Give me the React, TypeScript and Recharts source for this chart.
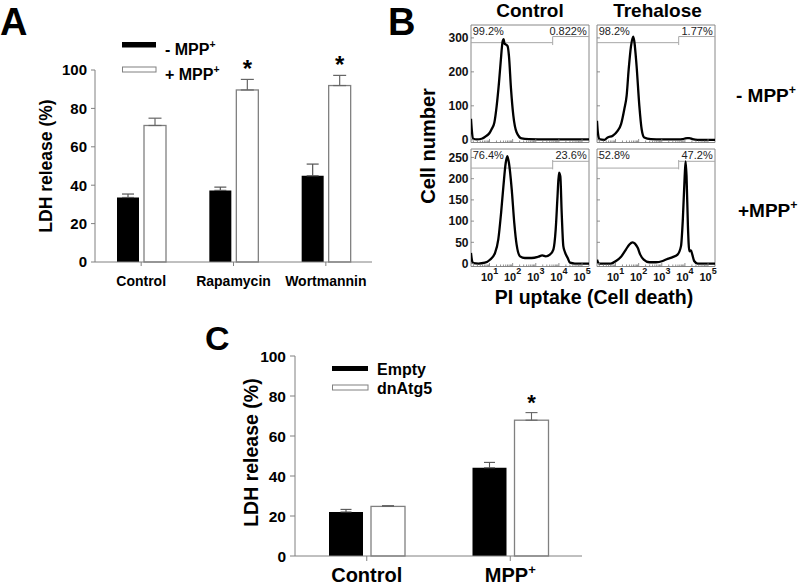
import React from 'react';
import { BarChart, Bar, XAxis, YAxis, ErrorBar, LineChart, Line, ReferenceLine, ReferenceArea } from 'recharts';

const FONT = '"Liberation Sans", Arial, Helvetica, sans-serif';

// ---------- Panel A ----------
const categoriesA = ['Control', 'Rapamycin', 'Wortmannin'];
const minusMppA = [33.6, 37.3, 44.9];
const minusMppErrA = [1.8, 1.7, 6.1];
const plusMppA = [71.1, 89.6, 91.9];
const plusMppErrA = [3.8, 5.5, 5.3];
const sigA = [false, true, true];
const seriesNamesA = ['- MPP+', '+ MPP+'];
const yTicksA = [0, 20, 40, 60, 80, 100];

// ---------- Panel C ----------
const categoriesC = ['Control', 'MPP+'];
const emptyC = [22.0, 44.1];
const emptyErrC = [1.3, 2.7];
const dnAtg5C = [24.8, 67.9];
const dnAtg5ErrC = [0.4, 3.8];
const sigC = [false, true];
const seriesNamesC = ['Empty', 'dnAtg5'];
const yTicksC = [0, 20, 40, 60, 80, 100];

// ---------- Panel B (flow cytometry histograms, x in log10 units) ----------
const colTitlesB = ['Control', 'Trehalose'];
const rowTitlesB = ['- MPP+', '+MPP+'];
const tlX = [0.2, 0.24, 0.3, 0.45, 0.66, 0.88, 1.0, 1.09, 1.21, 1.31, 1.41, 1.48, 1.57, 1.61, 1.65, 1.7, 1.78, 1.84, 1.93, 2.03, 2.17, 2.39, 2.7, 3.5, 4.5, 5.3];
const tlY = [62, 25, 3, 1, 3, 12, 20, 31, 51, 100, 169, 227, 291, 296, 283, 281, 276, 247, 149, 71, 22, 4, 2, 1, 1, 1];
const trX = [0.2, 0.24, 0.3, 0.52, 0.66, 0.88, 1.09, 1.24, 1.38, 1.48, 1.57, 1.67, 1.76, 1.81, 1.91, 2.03, 2.13, 2.24, 2.53, 3.0, 3.68, 3.97, 4.1, 4.19, 4.33, 4.55, 5.3];
const trY = [56, 20, 2, 0, 7, 12, 26, 46, 90, 129, 208, 276, 304, 291, 218, 100, 31, 7, 2, 1, 1, 3, 5, 5, 2, 0, 0];
const blX = [0.2, 0.24, 0.3, 0.52, 0.8, 1.02, 1.24, 1.38, 1.5, 1.6, 1.7, 1.77, 1.84, 1.96, 2.07, 2.17, 2.32, 2.53, 2.82, 3.11, 3.28, 3.43, 3.61, 3.76, 3.86, 3.94, 4.0, 4.06, 4.12, 4.19, 4.26, 4.38, 4.48, 4.69, 5.3];
const blY = [25, 8, 1, 0, 2, 9, 25, 57, 119, 182, 237, 253, 237, 175, 96, 45, 17, 13, 13, 16, 19, 17, 21, 33, 80, 159, 214, 206, 119, 41, 27, 13, 2, 0, 0];
const brX = [0.2, 0.24, 0.3, 0.8, 1.02, 1.24, 1.45, 1.6, 1.74, 1.84, 1.96, 2.07, 2.22, 2.46, 2.75, 3.04, 3.25, 3.47, 3.68, 3.83, 3.91, 3.99, 4.03, 4.07, 4.13, 4.19, 4.26, 4.32, 4.4, 4.55, 5.3];
const brY = [9, 3, 0, 0, 6, 16, 33, 45, 50, 47, 37, 21, 9, 3, 3, 6, 11, 15, 21, 41, 104, 206, 241, 206, 88, 29, 31, 21, 6, 0, 0];
const pctB = [['99.2%', '0.822%'], ['98.2%', '1.77%'], ['76.4%', '23.6%'], ['52.8%', '47.2%']];
const yTicksTop = [0, 100, 200, 300];
const yTicksBottom = [0, 50, 100, 150, 200, 250];
const yDomainTop: [number, number] = [-8, 338];
const yDomainBottom: [number, number] = [-7, 270];
const gateTop = { left: 286, right: 304, lo: 279, hi: 304 };
const gateBottom = { left: 225, right: 241, lo: 222, hi: 244 };
const GATE_X = 3.73;
const majorX = [1, 2, 3, 4, 5];
const minorMult = [2, 3, 4, 5, 6, 7, 8, 9];
const xDomainB: [number, number] = [0.2, 5.3];
const xTicksB = [...majorX, ...[0, 1, 2, 3, 4, 5].flatMap((d) => minorMult.map((k) => d + Math.log10(k)))]
  .filter((t) => t > xDomainB[0] && t < xDomainB[1])
  .sort((p, q) => p - q);

const BOX_W = 118;
const BOX_H = 117.5;
const colLeft = [470.7, 596.7];
const rowTop = [24.5, 148.8];

function makeRows(cats: string[], a: number[], aErr: number[], b: number[], bErr: number[], sig: boolean[]) {
  return cats.map((name, i) => ({ name, a: a[i], aErr: [0, aErr[i]], b: b[i], bErr: [0, bErr[i]], sig: sig[i] }));
}

const OpenBarWithStar = (starSize: number, starGap: number) => (props: any) => {
  const { x, y, width, height, payload } = props;
  const ppu = payload.b ? height / payload.b : 0;
  const errTop = y - payload.bErr[1] * ppu;
  return (
    <g>
      <rect x={x} y={y} width={width} height={height} fill="#fff" stroke="#808080" strokeWidth={1.3} />
      {payload.sig ? (
        <text x={x + width / 2} y={errTop - starGap} textAnchor="middle" fontSize={starSize} fontWeight="bold" fontFamily={FONT} fill="#000">*</text>
      ) : null}
    </g>
  );
};

function supText(label: string, size: number) {
  const sup = label.endsWith('+');
  const base = sup ? label.slice(0, -1) : label;
  return (
    <>
      {base}
      {sup ? <tspan fontSize={size * 0.65} dy={-size * 0.42}>+</tspan> : null}
    </>
  );
}

const CatTick = (fontSize: number) => (props: any) => {
  const { x, y, payload } = props;
  return (
    <text x={x} y={y} dy={fontSize * 0.71} textAnchor="middle" fontSize={fontSize} fontWeight="bold" fontFamily={FONT} fill="#000">
      {supText(String(payload.value), fontSize)}
    </text>
  );
};

const HistXTick = (showLabel: boolean) => (props: any) => {
  const { x, y, payload } = props;
  const v = payload.value;
  const major = Math.abs(v - Math.round(v)) < 1e-6;
  return (
    <g>
      <line x1={x} x2={x} y1={y} y2={y - (major ? 3.5 : 2)} stroke="#777" strokeWidth={0.8} />
      {showLabel && major ? (
        <text x={x} y={y + 14.5} textAnchor="middle" fontSize={11} fontWeight="bold" fontFamily={FONT} fill="#111">
          10<tspan fontSize={9} dy={-7}>{Math.round(v)}</tspan>
        </text>
      ) : null}
    </g>
  );
};

const HistYTick = (showLabel: boolean) => (props: any) => {
  const { x, y, payload } = props;
  return (
    <g>
      <line x1={x} x2={x + 3} y1={y} y2={y} stroke="#777" strokeWidth={0.8} />
      {showLabel ? (
        <text x={x - 2.5} y={y} dy="0.35em" textAnchor="end" fontSize={12} fontWeight="bold" fontFamily={FONT} fill="#111">{payload.value}</text>
      ) : null}
    </g>
  );
};

function Hist({ xs, ys, boxLeft, boxTop, yDomain, yTicks, showY, showX, gate }: any) {
  const data = xs.map((x: number, i: number) => ({ x, y: ys[i] }));
  const ML = 40, MT = 4, MR = 4, XH = 24;
  return (
    <div style={{ position: 'absolute', left: boxLeft - ML, top: boxTop - MT }}>
      <LineChart width={BOX_W + ML + MR} height={BOX_H + MT + XH} data={data} margin={{ top: MT, right: MR, bottom: 0, left: 0 }}>
        <XAxis type="number" dataKey="x" domain={xDomainB} ticks={xTicksB} interval={0} allowDataOverflow height={XH} tickSize={0} tickMargin={0} axisLine={false} tickLine={false} tick={HistXTick(showX)} />
        <YAxis type="number" domain={yDomain} ticks={yTicks} interval={0} allowDataOverflow width={ML} tickSize={0} tickMargin={0} axisLine={false} tickLine={false} tick={HistYTick(showY)} />
        <ReferenceArea x1={xDomainB[0]} x2={xDomainB[1]} y1={yDomain[0]} y2={yDomain[1]} fill="none" fillOpacity={0} stroke="#888" strokeWidth={1} ifOverflow="visible" />
        <ReferenceLine segment={[{ x: xDomainB[0], y: gate.left }, { x: GATE_X, y: gate.left }]} stroke="#a8a8a8" strokeWidth={1} ifOverflow="visible" />
        <ReferenceLine segment={[{ x: GATE_X, y: gate.right }, { x: xDomainB[1], y: gate.right }]} stroke="#a8a8a8" strokeWidth={1} ifOverflow="visible" />
        <ReferenceLine segment={[{ x: GATE_X, y: gate.lo }, { x: GATE_X, y: gate.hi }]} stroke="#a8a8a8" strokeWidth={1} ifOverflow="visible" />
        <Line type="monotone" dataKey="y" stroke="#000" strokeWidth={2.3} dot={false} isAnimationActive={false} />
      </LineChart>
    </div>
  );
}

export default function App() {
  const dataA = makeRows(categoriesA, minusMppA, minusMppErrA, plusMppA, plusMppErrA, sigA);
  const dataC = makeRows(categoriesC, emptyC, emptyErrC, dnAtg5C, dnAtg5ErrC, sigC);
  const axisStroke = '#808080';
  const histPanels = [
    { xs: tlX, ys: tlY, col: 0, row: 0 },
    { xs: trX, ys: trY, col: 1, row: 0 },
    { xs: blX, ys: blY, col: 0, row: 1 },
    { xs: brX, ys: brY, col: 1, row: 1 },
  ];

  return (
    <div style={{ position: 'absolute', left: 0, top: 0, width: 800, height: 586, background: '#fff', fontFamily: FONT, overflow: 'hidden' }}>
      {/* Panel A */}
      <div style={{ position: 'absolute', left: 0, top: 0 }}>
        <BarChart width={400} height={300} data={dataA} margin={{ top: 70, right: 28, bottom: 8, left: 35 }} barSize={22} barGap={5}>
          <XAxis dataKey="name" height={30} interval={0} tickSize={4} tickMargin={10} axisLine={{ stroke: axisStroke }} tickLine={{ stroke: axisStroke }} tick={CatTick(14)} />
          <YAxis width={60} domain={[0, 100]} ticks={yTicksA} interval={0} tickSize={4} tickMargin={4} axisLine={{ stroke: axisStroke }} tickLine={{ stroke: axisStroke }} tick={{ fontSize: 15, fontWeight: 'bold', fill: '#000', fontFamily: FONT }} />
          <Bar dataKey="a" fill="#000" isAnimationActive={false}>
            <ErrorBar dataKey="aErr" direction="y" width={6} stroke="#555" strokeWidth={1.2} isAnimationActive={false} />
          </Bar>
          <Bar dataKey="b" fill="#fff" stroke="#808080" isAnimationActive={false} shape={OpenBarWithStar(24, 2)}>
            <ErrorBar dataKey="bErr" direction="y" width={6.5} stroke="#666" strokeWidth={1.2} isAnimationActive={false} />
          </Bar>
        </BarChart>
      </div>

      {/* Panel C */}
      <div style={{ position: 'absolute', left: 180, top: 320 }}>
        <BarChart width={420} height={266} data={dataC} margin={{ top: 36, right: 18, bottom: 0, left: 60 }} barSize={34} barGap={8}>
          <XAxis dataKey="name" height={30} interval={0} tickSize={5} tickMargin={7} axisLine={{ stroke: axisStroke }} tickLine={{ stroke: axisStroke }} tick={CatTick(20)} />
          <YAxis width={55} domain={[0, 100]} ticks={yTicksC} interval={0} tickSize={5} tickMargin={4} axisLine={{ stroke: axisStroke }} tickLine={{ stroke: axisStroke }} tick={{ fontSize: 15.5, fontWeight: 'bold', fill: '#000', fontFamily: FONT }} />
          <Bar dataKey="a" fill="#000" isAnimationActive={false}>
            <ErrorBar dataKey="aErr" direction="y" width={5.5} stroke="#555" strokeWidth={1.1} isAnimationActive={false} />
          </Bar>
          <Bar dataKey="b" fill="#fff" stroke="#808080" isAnimationActive={false} shape={OpenBarWithStar(22, 3)}>
            <ErrorBar dataKey="bErr" direction="y" width={6} stroke="#666" strokeWidth={1.1} isAnimationActive={false} />
          </Bar>
        </BarChart>
      </div>

      {/* Panel B histograms */}
      {histPanels.map((p, i) => (
        <Hist
          key={i}
          xs={p.xs}
          ys={p.ys}
          boxLeft={colLeft[p.col]}
          boxTop={rowTop[p.row]}
          yDomain={p.row === 0 ? yDomainTop : yDomainBottom}
          yTicks={p.row === 0 ? yTicksTop : yTicksBottom}
          showY={p.col === 0}
          showX={p.row === 1}
          gate={p.row === 0 ? gateTop : gateBottom}
        />
      ))}

      {/* Annotation overlay */}
      <svg width={800} height={586} style={{ position: 'absolute', left: 0, top: 0, pointerEvents: 'none' }} fontFamily={FONT}>
        {/* panel letters */}
        <text x={0} y={35} fontSize={38} fontWeight="bold" fill="#000">A</text>
        <text x={388} y={35} fontSize={38} fontWeight="bold" fill="#000">B</text>
        <text x={205} y={350} fontSize={34} fontWeight="bold" fill="#000">C</text>

        {/* Panel A legend and axis title */}
        <rect x={122} y={42} width={34} height={5.5} fill="#000" />
        <text x={165} y={55} fontSize={16} fontWeight="bold" fill="#000">{supText(seriesNamesA[0], 16)}</text>
        <rect x={122.5} y={67} width={33.5} height={5} fill="#fff" stroke="#808080" strokeWidth={1} />
        <text x={165} y={79.5} fontSize={16} fontWeight="bold" fill="#000">{supText(seriesNamesA[1], 16)}</text>
        <text transform="translate(46,166) rotate(-90)" textAnchor="middle" dy="0.35em" fontSize={17.5} fontWeight="bold" fill="#000">LDH release (%)</text>

        {/* Panel C legend and axis title */}
        <rect x={332} y={366} width={36} height={5} fill="#000" />
        <text x={377} y={374.5} fontSize={16} fontWeight="bold" fill="#000">{seriesNamesC[0]}</text>
        <rect x={332.5} y={385} width={35.5} height={5} fill="#fff" stroke="#808080" strokeWidth={1} />
        <text x={377} y={394} fontSize={16} fontWeight="bold" fill="#000">{seriesNamesC[1]}</text>
        <text transform="translate(251,452.6) rotate(-90)" textAnchor="middle" dy="0.35em" fontSize={19.5} fontWeight="bold" fill="#000">LDH release (%)</text>

        {/* Panel B titles */}
        <text x={530} y={17} textAnchor="middle" fontSize={19} fontWeight="bold" fill="#000">{colTitlesB[0]}</text>
        <text x={657.5} y={17} textAnchor="middle" fontSize={19} fontWeight="bold" fill="#000">{colTitlesB[1]}</text>
        <text x={736} y={101.5} fontSize={19} fontWeight="bold" fill="#000">{supText(rowTitlesB[0], 19)}</text>
        <text x={738} y={217} fontSize={19} fontWeight="bold" fill="#000">{supText(rowTitlesB[1], 19)}</text>
        <text transform="translate(428,146) rotate(-90)" textAnchor="middle" dy="0.35em" fontSize={20} fontWeight="bold" fill="#000">Cell number</text>
        <text x={594} y={304} textAnchor="middle" fontSize={19.5} fontWeight="bold" fill="#000">PI uptake (Cell death)</text>

        {/* gate percentages */}
        {histPanels.map((p, i) => (
          <g key={i}>
            <text x={colLeft[p.col] + 2} y={rowTop[p.row] + 10.5} fontSize={11} fill="#222">{pctB[i][0]}</text>
            <text x={colLeft[p.col] + BOX_W - 2} y={rowTop[p.row] + 10.5} textAnchor="end" fontSize={11} fill="#222">{pctB[i][1]}</text>
          </g>
        ))}
      </svg>
    </div>
  );
}
